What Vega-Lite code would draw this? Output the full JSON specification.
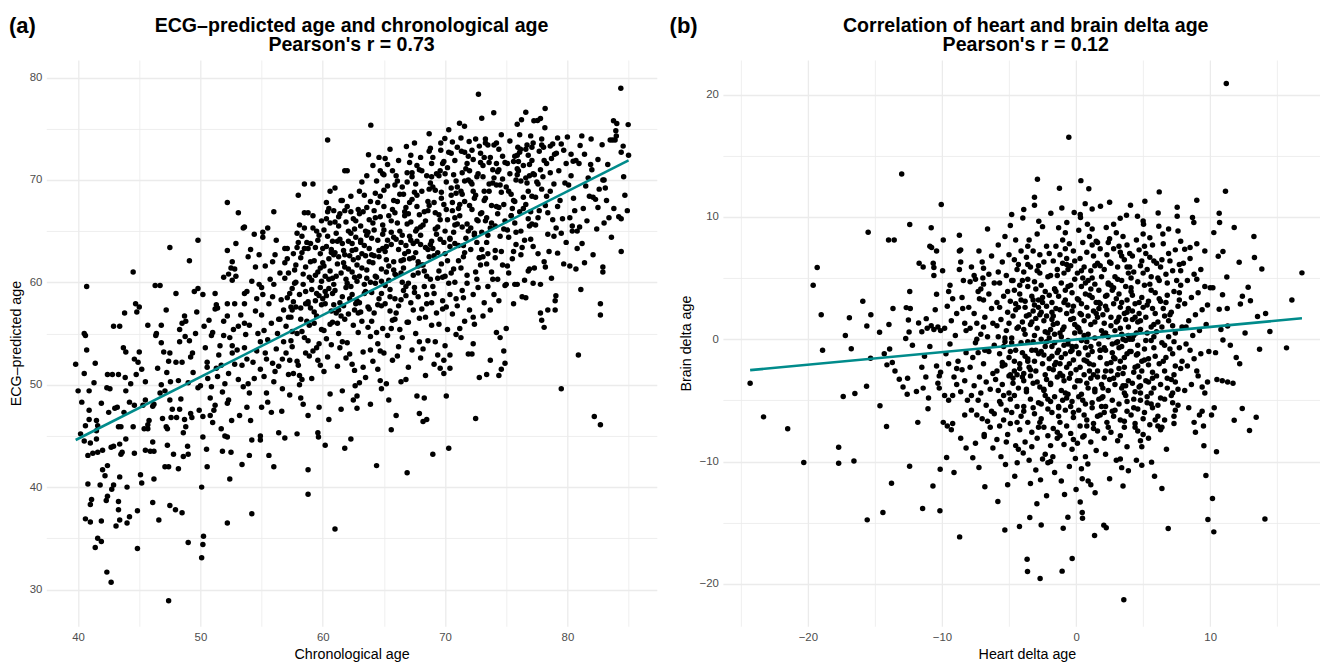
{
"$schema":"https://vega.github.io/schema/vega-lite/v6.json",
"background":"white",
"padding":{"left":9,"top":15,"right":0,"bottom":0},
"bounds":"flush",
"spacing":12.3,
"config":{
 "font":"Liberation Sans",
 "view":{"stroke":null},
 "axis":{"domain":false,"ticks":false,"labelColor":"#4D4D4D","labelFontSize":11.4,"titleFontSize":14.3,"titleFontWeight":"normal","titleColor":"#000000","gridColor":"#EBEBEB","labelOverlap":false,"labelFlush":false,"labelFont":"Liberation Sans","titleFont":"Liberation Sans"},
 "axisX":{"labelPadding":5,"titlePadding":5},
 "axisY":{"labelPadding":4.5,"titlePadding":5.5},
 "title":{"fontSize":19.6,"fontWeight":"bold","color":"#000000","font":"Liberation Sans"}
},
"datasets":{
"ecgLine":[{"x":39.8,"y":44.6},{"x":85.0,"y":71.9}],
"deltaLine":[{"x":-24.3,"y":-2.53},{"x":16.84,"y":1.71}],
"ecg":[
{"x":39.8,"y":52},{"x":40,"y":49.4},{"x":40.5,"y":51.1},{"x":40.6,"y":54.8},{"x":40.5,"y":55},{"x":40.7,"y":59.6},{"x":40.6,"y":46},{"x":40.9,"y":46.6},{"x":40.9,"y":47.5},{"x":40.9,"y":49.4},{"x":40.8,"y":43.1},{"x":40.5,"y":44.5},{"x":40.8,"y":40.3},{"x":40.6,"y":36.9},{"x":40.3,"y":48.3},{"x":40.7,"y":53.4},{"x":40.2,"y":45.2},
{"x":41,"y":44.3},{"x":41,"y":36.6},{"x":41,"y":38.3},{"x":41.1,"y":38.8},{"x":41.2,"y":43.3},{"x":41.4,"y":52.1},{"x":41.4,"y":34.1},{"x":41.5,"y":44.7},{"x":41.5,"y":45.5},{"x":41.6,"y":43.4},{"x":41.6,"y":35},{"x":41.8,"y":40.2},{"x":41.9,"y":34.7},{"x":41.9,"y":36.7},{"x":41.9,"y":48.2},{"x":41.5,"y":46.5},{"x":41.6,"y":46},{"x":41.3,"y":50.2},
{"x":42,"y":43.6},{"x":42,"y":41.7},{"x":42.2,"y":41.1},{"x":42.35,"y":31.7},{"x":42.35,"y":49.7},{"x":42.3,"y":38.7},{"x":42.4,"y":39.1},{"x":42.4,"y":42.1},{"x":42.4,"y":51},{"x":42.6,"y":49.6},{"x":42.7,"y":30.7},{"x":42.7,"y":43.9},{"x":42.75,"y":39.8},{"x":42.9,"y":40.2},{"x":42.9,"y":44},{"x":42.9,"y":55.7},{"x":42.5,"y":47.3},{"x":42.8,"y":51},
{"x":43,"y":47.7},{"x":43.1,"y":36.2},{"x":43.2,"y":47.8},{"x":43.3,"y":45.9},{"x":43.3,"y":37.8},{"x":43.3,"y":38.6},{"x":43.4,"y":36.8},{"x":43.4,"y":41},{"x":43.4,"y":44.2},{"x":43.5,"y":45.9},{"x":43.4,"y":55.7},{"x":43.5,"y":43.2},{"x":43.6,"y":43.4},{"x":43.7,"y":53.6},{"x":43.75,"y":47.3},{"x":43.8,"y":57},{"x":43.85,"y":50.7},{"x":43.9,"y":53.2},{"x":43.9,"y":49.4},{"x":43.9,"y":44.7},{"x":43.3,"y":51},
{"x":44,"y":36.5},{"x":44,"y":40},{"x":44.2,"y":37.1},{"x":44.2,"y":48.3},{"x":44.5,"y":61},{"x":44.5,"y":45.9},{"x":44.6,"y":43.3},{"x":44.6,"y":52.5},{"x":44.75,"y":51},{"x":44.7,"y":57.9},{"x":44.8,"y":57.1},{"x":44.85,"y":37.7},{"x":44.85,"y":34},{"x":44.9,"y":52.2},{"x":44.6,"y":48},{"x":44.3,"y":50.1},
{"x":45,"y":53.2},{"x":45,"y":57.6},{"x":45.1,"y":41.2},{"x":45.2,"y":40.4},{"x":45.4,"y":45.7},{"x":45.5,"y":50.3},{"x":45.5,"y":43.6},{"x":45.5,"y":48.5},{"x":45.7,"y":45.7},{"x":45.7,"y":46.1},{"x":45.7,"y":55.8},{"x":45.8,"y":46.5},{"x":45.9,"y":43.5},{"x":45.3,"y":48},{"x":45.2,"y":51.5},
{"x":46.1,"y":38.5},{"x":46.1,"y":44.4},{"x":46.1,"y":47.9},{"x":46.2,"y":43.5},{"x":46.2,"y":40.8},{"x":46.2,"y":48.1},{"x":46.3,"y":59.7},{"x":46.35,"y":54.8},{"x":46.4,"y":55},{"x":46.6,"y":36.8},{"x":46.7,"y":49.2},{"x":46.7,"y":59.7},{"x":46.8,"y":50},{"x":46.8,"y":54.1},{"x":46.8,"y":55.8},{"x":46.5,"y":51.6},{"x":46.9,"y":46.7},
{"x":47,"y":53.2},{"x":47.1,"y":49.4},{"x":47.1,"y":42},{"x":47.2,"y":45.9},{"x":47.2,"y":57.3},{"x":47.25,"y":51.2},{"x":47.3,"y":45.7},{"x":47.4,"y":42},{"x":47.4,"y":28.9},{"x":47.4,"y":52.3},{"x":47.5,"y":38.2},{"x":47.5,"y":48.5},{"x":47.5,"y":63.4},{"x":47.5,"y":53.1},{"x":47.55,"y":50.3},{"x":47.7,"y":47.6},{"x":47.8,"y":43.2},{"x":47.96,"y":37.8},{"x":47.3,"y":44.1},{"x":47.6,"y":46.8},
{"x":48,"y":52.2},{"x":48.05,"y":46.8},{"x":48,"y":58.9},{"x":48.2,"y":41.8},{"x":48.3,"y":47.6},{"x":48.3,"y":54.2},{"x":48.3,"y":55.4},{"x":48.4,"y":48.6},{"x":48.5,"y":37.5},{"x":48.5,"y":52.2},{"x":48.5,"y":56},{"x":48.6,"y":43},{"x":48.6,"y":45.3},{"x":48.7,"y":46.6},{"x":48.7,"y":56.7},{"x":48.75,"y":54.7},{"x":48.8,"y":56.2},{"x":48.8,"y":45.9},{"x":48.95,"y":44},{"x":48.2,"y":50.4},
{"x":49,"y":34.6},{"x":49,"y":43.2},{"x":49,"y":50.2},{"x":49.1,"y":62.1},{"x":49.2,"y":47.2},{"x":49.2,"y":52.7},{"x":49.3,"y":46.8},{"x":49.35,"y":53.1},{"x":49.5,"y":59.1},{"x":49.7,"y":57.1},{"x":49.8,"y":49.7},{"x":49.8,"y":59.4},{"x":49.8,"y":64.1},{"x":49.6,"y":55},{"x":49.4,"y":51.2},{"x":49.9,"y":47.5},{"x":49.1,"y":54.3},
{"x":50,"y":49.9},{"x":50.1,"y":33.1},{"x":50.1,"y":40},{"x":50.2,"y":34.4},{"x":50.25,"y":35.2},{"x":50.2,"y":44.9},{"x":50.2,"y":46.9},{"x":50.2,"y":58.8},{"x":50.5,"y":43.7},{"x":50.55,"y":42},{"x":50.55,"y":52.2},{"x":50.55,"y":51.7},{"x":50.7,"y":56.3},{"x":50.8,"y":47},{"x":50.8,"y":48.7},{"x":50.4,"y":53.6},{"x":50.9,"y":54.8},{"x":50.6,"y":50.6},{"x":50.3,"y":55.7},{"x":50.9,"y":49.8},
{"x":51,"y":46.3},{"x":51.1,"y":47.5},{"x":51.2,"y":48},{"x":51.2,"y":57.4},{"x":51.2,"y":58.9},{"x":51.3,"y":57.8},{"x":51.4,"y":50.8},{"x":51.4,"y":57.5},{"x":51.7,"y":45.7},{"x":51.8,"y":49.3},{"x":51.8,"y":43.5},{"x":51.9,"y":60.5},{"x":51.9,"y":54.8},{"x":51.5,"y":52.9},{"x":51.6,"y":53.8},{"x":51.3,"y":51.6},{"x":51.9,"y":56.2},{"x":51,"y":55.1},{"x":51.7,"y":51.9},
{"x":52,"y":45},{"x":52,"y":50.1},{"x":52.2,"y":44.9},{"x":52.2,"y":36.5},{"x":52.2,"y":48.2},{"x":52.2,"y":57.9},{"x":52.2,"y":56.7},{"x":52.2,"y":63.1},{"x":52.2,"y":67.8},{"x":52.3,"y":51.1},{"x":52.3,"y":48.5},{"x":52.3,"y":60.8},{"x":52.4,"y":40.8},{"x":52.5,"y":43.4},{"x":52.5,"y":61.4},{"x":52.55,"y":46.5},{"x":52.6,"y":53.8},{"x":52.6,"y":53.1},{"x":52.6,"y":62},{"x":52.6,"y":60.2},{"x":52.8,"y":52},{"x":52.8,"y":61.3},{"x":52.8,"y":57.9},{"x":52.9,"y":63.8},{"x":52.9,"y":60.6},{"x":52.7,"y":55.4},{"x":52.4,"y":54.6},
{"x":53,"y":53.4},{"x":53.1,"y":50.5},{"x":53.1,"y":55.7},{"x":53.1,"y":66.8},{"x":53.2,"y":47},{"x":53.4,"y":51.9},{"x":53.4,"y":42.2},{"x":53.5,"y":65.3},{"x":53.5,"y":49.8},{"x":53.6,"y":58.9},{"x":53.6,"y":56},{"x":53.6,"y":53.6},{"x":53.6,"y":65.4},{"x":53.6,"y":57.9},{"x":53.8,"y":47.8},{"x":53.8,"y":59.1},{"x":53.9,"y":62.5},{"x":53.9,"y":50.1},{"x":53.7,"y":54.9},{"x":53.3,"y":56.8},{"x":53.8,"y":52.5},
{"x":54,"y":43.1},{"x":54,"y":55.8},{"x":54,"y":49.2},{"x":54.1,"y":46.5},{"x":54.1,"y":63.2},{"x":54.2,"y":44.6},{"x":54.2,"y":60.1},{"x":54.2,"y":37.4},{"x":54.4,"y":50.6},{"x":54.4,"y":64.7},{"x":54.5,"y":61.5},{"x":54.6,"y":53.3},{"x":54.8,"y":62.7},{"x":54.8,"y":59.8},{"x":54.9,"y":45},{"x":54.9,"y":44.6},{"x":54.9,"y":51.5},{"x":54.5,"y":57.2},{"x":54.7,"y":55},{"x":54.3,"y":52.2},{"x":54.6,"y":58.4},{"x":54.9,"y":54.2},
{"x":55,"y":59.5},{"x":55,"y":56.8},{"x":55,"y":47.8},{"x":55.1,"y":64.9},{"x":55.1,"y":64.4},{"x":55.1,"y":58.8},{"x":55.2,"y":50.8},{"x":55.3,"y":61.6},{"x":55.4,"y":49.2},{"x":55.5,"y":65.3},{"x":55.5,"y":48.3},{"x":55.6,"y":43.1},{"x":55.5,"y":54.4},{"x":55.3,"y":53.1},{"x":55.8,"y":47.3},{"x":55.9,"y":62},{"x":55.9,"y":52.1},{"x":55.8,"y":56},{"x":55.6,"y":57.9},{"x":55.2,"y":55.3},{"x":55.7,"y":60.3},{"x":55.4,"y":52.5},{"x":55.9,"y":58.6},
{"x":56,"y":42},{"x":56,"y":59.8},{"x":56,"y":50.3},{"x":56,"y":66.9},{"x":56.1,"y":51.3},{"x":56.2,"y":64.1},{"x":56.4,"y":45.3},{"x":56.4,"y":56.4},{"x":56.5,"y":56.4},{"x":56.65,"y":47.4},{"x":56.7,"y":52.5},{"x":56.9,"y":63.3},{"x":56.9,"y":61.9},{"x":56.9,"y":60.4},{"x":56.9,"y":44.8},{"x":56.3,"y":55},{"x":56.6,"y":58.3},{"x":56.8,"y":54.2},{"x":56.2,"y":53.5},{"x":56.5,"y":60.9},{"x":56.8,"y":57.3},{"x":56.1,"y":62.7},{"x":56.7,"y":49.6},{"x":56.4,"y":51.8},
{"x":57,"y":53.1},{"x":57.1,"y":63.3},{"x":57.2,"y":56.6},{"x":57.2,"y":51},{"x":57.4,"y":56.6},{"x":57.5,"y":57.3},{"x":57.3,"y":52.4},{"x":57.6,"y":51.1},{"x":57.9,"y":45.2},{"x":57.9,"y":64.8},{"x":57.9,"y":55},{"x":57.5,"y":59.4},{"x":57.7,"y":61.2},{"x":57.1,"y":58.5},{"x":57.8,"y":60},{"x":57.4,"y":54.3},{"x":57.6,"y":62.8},{"x":57.3,"y":49},{"x":57.8,"y":57.6},{"x":57,"y":55.7},{"x":57.5,"y":53.7},{"x":57.2,"y":60.9},{"x":57.9,"y":52.3},{"x":57.6,"y":58.1},
{"x":58,"y":68.5},{"x":58,"y":63.9},{"x":58,"y":51.9},{"x":58.1,"y":50.9},{"x":58.1,"y":50},{"x":58.2,"y":57.5},{"x":58.2,"y":48.7},{"x":58.3,"y":50.5},{"x":58.4,"y":48.1},{"x":58.5,"y":69.6},{"x":58.5,"y":66.8},{"x":58.5,"y":65.3},{"x":58.5,"y":63.3},{"x":58.6,"y":53.1},{"x":58.8,"y":66.8},{"x":58.8,"y":63.3},{"x":58.8,"y":57.9},{"x":58.8,"y":58.1},{"x":58.8,"y":41.7},{"x":58.8,"y":39.3},{"x":58.8,"y":47},{"x":58.3,"y":55.2},{"x":58.4,"y":59.8},{"x":58.6,"y":61.5},{"x":58.7,"y":56.2},{"x":58.2,"y":62.4},{"x":58.9,"y":60.5},{"x":58.5,"y":54.6},{"x":58.1,"y":58.8},{"x":58.9,"y":52.8},{"x":58.3,"y":64.5},{"x":58.6,"y":59.1},
{"x":59.2,"y":69.6},{"x":59.2,"y":66.5},{"x":59.4,"y":58.2},{"x":59.5,"y":65},{"x":59.6,"y":45.3},{"x":59.65,"y":44.9},{"x":59.7,"y":47.8},{"x":59.8,"y":51.9},{"x":59.7,"y":54},{"x":59.1,"y":60.2},{"x":59.3,"y":62.1},{"x":59.5,"y":56.7},{"x":59.8,"y":59.5},{"x":59,"y":57.5},{"x":59.4,"y":63.4},{"x":59.6,"y":61},{"x":59.9,"y":55.4},{"x":59.2,"y":53.3},{"x":59.7,"y":64.6},{"x":59.1,"y":50.6},{"x":59.5,"y":58.9},{"x":59.8,"y":62.8},{"x":59.3,"y":56},{"x":59.9,"y":66},{"x":59,"y":63.8},{"x":59.6,"y":52.4},{"x":59.4,"y":60.7},{"x":59.9,"y":57.8},
{"x":60.4,"y":73.9},{"x":60.6,"y":68.9},{"x":60.3,"y":66.2},{"x":60.5,"y":67.2},{"x":60.4,"y":66.9},{"x":60.2,"y":44.1},{"x":60.3,"y":54.5},{"x":60.6,"y":49.1},{"x":60.1,"y":55.3},{"x":60,"y":58.4},{"x":60.2,"y":60.6},{"x":60.5,"y":62.3},{"x":60.8,"y":64},{"x":60.1,"y":65.1},{"x":60.7,"y":57.2},{"x":60.9,"y":59.8},{"x":60.3,"y":63.5},{"x":60.6,"y":61.1},{"x":60.8,"y":56.1},{"x":60.4,"y":52.7},{"x":60.9,"y":67},{"x":60,"y":61.9},{"x":60.7,"y":53.9},{"x":60.2,"y":57.9},{"x":60.5,"y":59.4},{"x":60.9,"y":62.7},{"x":60.6,"y":65.8},{"x":60.1,"y":51.3},{"x":60.8,"y":60.4},{"x":60.3,"y":58.7},{"x":60.5,"y":46.6},{"x":60.7,"y":63.2},
{"x":61,"y":35.9},{"x":61,"y":69.2},{"x":61.3,"y":66.4},{"x":61.3,"y":65.5},{"x":61.3,"y":55},{"x":61.5,"y":68},{"x":61.6,"y":68},{"x":61.8,"y":70.9},{"x":61.8,"y":67},{"x":61.8,"y":43.8},{"x":61.5,"y":47.6},{"x":61.6,"y":49.4},{"x":61.2,"y":51.8},{"x":61.4,"y":53.6},{"x":61.1,"y":57},{"x":61.6,"y":58.6},{"x":61.9,"y":60.3},{"x":61.2,"y":61.8},{"x":61.7,"y":63.1},{"x":61.4,"y":64.2},{"x":61,"y":59.2},{"x":61.8,"y":56.4},{"x":61.3,"y":62.5},{"x":61.6,"y":54.2},{"x":61.9,"y":52.6},{"x":61.1,"y":64.8},{"x":61.5,"y":60.9},{"x":61.7,"y":57.7},{"x":61.2,"y":56},{"x":61.9,"y":65.9},{"x":61.4,"y":58},{"x":61,"y":62.9},{"x":61.8,"y":61.5},
{"x":62,"y":70.9},{"x":62.3,"y":68.4},{"x":62.3,"y":44.7},{"x":62.4,"y":52},{"x":62.5,"y":48.5},{"x":62.65,"y":49.9},{"x":62.8,"y":47.7},{"x":62.8,"y":48.9},{"x":62,"y":54.1},{"x":62.1,"y":56.9},{"x":62.4,"y":58.8},{"x":62.6,"y":60.5},{"x":62.2,"y":62.6},{"x":62.7,"y":64.4},{"x":62.5,"y":66.2},{"x":62.9,"y":67.1},{"x":62.1,"y":65},{"x":62.8,"y":61.7},{"x":62.3,"y":59.6},{"x":62.6,"y":57.3},{"x":62.9,"y":55.1},{"x":62.2,"y":53},{"x":62.7,"y":63.2},{"x":62.4,"y":61},{"x":62,"y":59.9},{"x":62.8,"y":58.2},{"x":62.5,"y":55.8},{"x":62.9,"y":62.4},{"x":62.1,"y":64},{"x":62.6,"y":51.4},{"x":62.3,"y":66.9},{"x":62.7,"y":57.9},{"x":62.4,"y":63.8},
{"x":63,"y":50.2},{"x":63.5,"y":50.7},{"x":63.9,"y":48.1},{"x":63.93,"y":75.35},{"x":63.74,"y":72.45},{"x":63.2,"y":69.8},{"x":63.6,"y":67.3},{"x":63.1,"y":65.5},{"x":63.4,"y":63.6},{"x":63.8,"y":62},{"x":63,"y":60.6},{"x":63.5,"y":59.1},{"x":63.7,"y":57.6},{"x":63.2,"y":56.2},{"x":63.9,"y":54.7},{"x":63.3,"y":53.2},{"x":63.6,"y":61.2},{"x":63.1,"y":64.1},{"x":63.8,"y":66.1},{"x":63.4,"y":68.5},{"x":63,"y":58},{"x":63.7,"y":55.6},{"x":63.2,"y":62.8},{"x":63.5,"y":65},{"x":63.9,"y":60},{"x":63.3,"y":51.7},{"x":63.6,"y":70.4},{"x":63.1,"y":57.1},{"x":63.8,"y":63.3},{"x":63.4,"y":59.8},{"x":63,"y":66.7},{"x":63.9,"y":53.4},{"x":63.6,"y":64.6},
{"x":64.4,"y":42.1},{"x":64.8,"y":49.6},{"x":64.7,"y":50.4},{"x":64.1,"y":52.3},{"x":64.5,"y":54},{"x":64.9,"y":55.5},{"x":64.2,"y":57},{"x":64.6,"y":58.4},{"x":64.3,"y":59.9},{"x":64.8,"y":61.3},{"x":64,"y":62.7},{"x":64.5,"y":64.1},{"x":64.9,"y":65.6},{"x":64.2,"y":67},{"x":64.7,"y":68.4},{"x":64.4,"y":69.9},{"x":64.1,"y":71.4},{"x":64.6,"y":72.2},{"x":64.3,"y":60.6},{"x":64.9,"y":63.3},{"x":64,"y":56.2},{"x":64.7,"y":53.3},{"x":64.2,"y":65.1},{"x":64.8,"y":58.9},{"x":64.5,"y":67.8},{"x":64.1,"y":61.9},{"x":64.9,"y":70.6},{"x":64.4,"y":55.1},{"x":64.6,"y":62.5},{"x":64,"y":59},{"x":64.3,"y":66.3},{"x":64.8,"y":57.7},{"x":64.5,"y":51.5},
{"x":65.2,"y":50.1},{"x":65.4,"y":48.5},{"x":65.6,"y":45.6},{"x":65,"y":53.1},{"x":65.3,"y":54.8},{"x":65.7,"y":56.3},{"x":65.1,"y":57.9},{"x":65.5,"y":59.3},{"x":65.9,"y":60.8},{"x":65.2,"y":62.2},{"x":65.6,"y":63.7},{"x":65,"y":65.1},{"x":65.4,"y":66.5},{"x":65.8,"y":68},{"x":65.3,"y":69.4},{"x":65.7,"y":70.9},{"x":65.1,"y":72.1},{"x":65.5,"y":73},{"x":65.9,"y":58.4},{"x":65.2,"y":61},{"x":65.8,"y":64.4},{"x":65,"y":67.4},{"x":65.6,"y":55.5},{"x":65.4,"y":60.2},{"x":65.9,"y":66.8},{"x":65.1,"y":63},{"x":65.7,"y":52.4},{"x":65.3,"y":71.5},{"x":65.5,"y":57.2},{"x":65.8,"y":62},{"x":65,"y":69},{"x":65.6,"y":64.9},
{"x":66,"y":47},{"x":66.4,"y":50.3},{"x":66.8,"y":50.5},{"x":66.9,"y":41.4},{"x":66.84,"y":73.26},{"x":66.1,"y":52.8},{"x":66.5,"y":54.6},{"x":66.9,"y":56.1},{"x":66.2,"y":57.7},{"x":66.6,"y":59.2},{"x":66,"y":60.7},{"x":66.4,"y":62.1},{"x":66.8,"y":63.6},{"x":66.3,"y":65},{"x":66.7,"y":66.5},{"x":66.1,"y":67.9},{"x":66.5,"y":69.3},{"x":66.9,"y":70.7},{"x":66.2,"y":71.9},{"x":66.6,"y":61.4},{"x":66,"y":64.2},{"x":66.4,"y":58.3},{"x":66.8,"y":67.3},{"x":66.3,"y":55.4},{"x":66.7,"y":62.8},{"x":66.1,"y":69.9},{"x":66.5,"y":60},{"x":66.9,"y":65.7},{"x":66.2,"y":53.7},{"x":66.6,"y":68.6},{"x":66,"y":57},{"x":66.4,"y":63.9},{"x":66.8,"y":59.6},
{"x":67.9,"y":47.2},{"x":67.7,"y":48.9},{"x":67,"y":51.7},{"x":67.3,"y":53.4},{"x":67.6,"y":55},{"x":67.9,"y":56.5},{"x":67.2,"y":58},{"x":67.5,"y":59.5},{"x":67.8,"y":60.9},{"x":67.1,"y":62.3},{"x":67.4,"y":63.8},{"x":67.7,"y":65.2},{"x":67,"y":66.7},{"x":67.3,"y":68.1},{"x":67.6,"y":69.6},{"x":67.9,"y":71},{"x":67.2,"y":72.4},{"x":67.5,"y":73.6},{"x":67.8,"y":61.6},{"x":67.1,"y":64.5},{"x":67.4,"y":57.3},{"x":67.7,"y":67.4},{"x":67,"y":59.9},{"x":67.3,"y":70.3},{"x":67.6,"y":62.9},{"x":67.9,"y":54.2},{"x":67.2,"y":65.9},{"x":67.5,"y":68.8},{"x":67.8,"y":58.6},{"x":67.1,"y":71.7},{"x":67.4,"y":60.7},{"x":67.7,"y":64},{"x":67,"y":56.1},
{"x":68.2,"y":46.4},{"x":68.5,"y":46.6},{"x":68.3,"y":48.7},{"x":68.7,"y":72.8},{"x":68.8,"y":73.1},{"x":68.4,"y":50.9},{"x":68,"y":52.6},{"x":68.6,"y":54.3},{"x":68.9,"y":55.8},{"x":68.1,"y":57.4},{"x":68.5,"y":58.8},{"x":68.8,"y":60.3},{"x":68.2,"y":61.7},{"x":68.6,"y":63.2},{"x":68,"y":64.6},{"x":68.4,"y":66},{"x":68.7,"y":67.5},{"x":68.1,"y":68.9},{"x":68.5,"y":70.4},{"x":68.9,"y":71.6},{"x":68.3,"y":59.6},{"x":68.7,"y":62.5},{"x":68,"y":65.4},{"x":68.4,"y":56.6},{"x":68.8,"y":69.7},{"x":68.2,"y":53.5},{"x":68.6,"y":67},{"x":68.9,"y":64},{"x":68.3,"y":61.1},{"x":68.1,"y":70.9},{"x":68.5,"y":57.9},{"x":68.7,"y":74.5},{"x":68,"y":63.7},
{"x":69,"y":43.2},{"x":69.1,"y":52},{"x":69.4,"y":52.9},{"x":69.6,"y":51.6},{"x":69.65,"y":73.6},{"x":69.65,"y":72.9},{"x":69.98,"y":74.04},{"x":69.9,"y":52.4},{"x":69.9,"y":51.1},{"x":69.2,"y":54.2},{"x":69.5,"y":55.9},{"x":69.8,"y":57.4},{"x":69.1,"y":58.9},{"x":69.4,"y":60.4},{"x":69.7,"y":61.8},{"x":69,"y":63.3},{"x":69.3,"y":64.7},{"x":69.6,"y":66.1},{"x":69.9,"y":67.6},{"x":69.2,"y":69},{"x":69.5,"y":70.4},{"x":69.8,"y":71.6},{"x":69.1,"y":62.6},{"x":69.4,"y":65.4},{"x":69.7,"y":68.2},{"x":69,"y":59.6},{"x":69.3,"y":57},{"x":69.6,"y":70.9},{"x":69.9,"y":63.9},{"x":69.2,"y":66.8},{"x":69.5,"y":61.1},{"x":69.8,"y":58.2},{"x":69,"y":72.2},
{"x":70.1,"y":48.9},{"x":70.3,"y":43.8},{"x":70.4,"y":51.6},{"x":70.4,"y":52.9},{"x":70.5,"y":72.6},{"x":70.8,"y":71.9},{"x":70,"y":53.8},{"x":70.2,"y":55.4},{"x":70.6,"y":56.9},{"x":70.9,"y":58.4},{"x":70.3,"y":59.9},{"x":70.7,"y":61.3},{"x":70,"y":62.8},{"x":70.4,"y":64.2},{"x":70.8,"y":65.6},{"x":70.1,"y":67.1},{"x":70.5,"y":68.5},{"x":70.9,"y":69.9},{"x":70.2,"y":71.2},{"x":70.6,"y":73.7},{"x":70,"y":60.6},{"x":70.4,"y":63.5},{"x":70.8,"y":66.3},{"x":70.1,"y":57.6},{"x":70.5,"y":69.2},{"x":70.9,"y":54.9},{"x":70.3,"y":74.9},{"x":70.7,"y":64.9},{"x":70.2,"y":62.1},{"x":70.6,"y":67.8},{"x":70,"y":70.6},{"x":70.4,"y":58.8},{"x":70.8,"y":60},
{"x":71.18,"y":75.54},{"x":71.59,"y":75.25},{"x":71.34,"y":72.8},{"x":71.6,"y":72.7},{"x":71.97,"y":73.75},{"x":71.9,"y":53},{"x":71.3,"y":54.6},{"x":71.6,"y":56.2},{"x":71,"y":57.7},{"x":71.4,"y":59.2},{"x":71.8,"y":60.7},{"x":71.1,"y":62.1},{"x":71.5,"y":63.6},{"x":71.9,"y":65},{"x":71.2,"y":66.5},{"x":71.6,"y":67.9},{"x":71,"y":69.3},{"x":71.4,"y":70.7},{"x":71.8,"y":71.6},{"x":71.3,"y":61.4},{"x":71.7,"y":64.3},{"x":71.1,"y":67.2},{"x":71.5,"y":58.5},{"x":71.9,"y":70},{"x":71.2,"y":55.5},{"x":71.6,"y":62.9},{"x":71,"y":65.7},{"x":71.4,"y":68.6},{"x":71.8,"y":59.9},{"x":71.3,"y":74.1},
{"x":72.73,"y":78.37},{"x":72.2,"y":53},{"x":72.3,"y":54},{"x":72.4,"y":55.9},{"x":72.5,"y":46.7},{"x":72.8,"y":50.7},{"x":72,"y":57.3},{"x":72.3,"y":58.8},{"x":72.6,"y":60.3},{"x":72.9,"y":61.7},{"x":72.1,"y":63.2},{"x":72.4,"y":64.6},{"x":72.7,"y":66},{"x":72,"y":67.5},{"x":72.3,"y":68.9},{"x":72.6,"y":70.3},{"x":72.9,"y":71.7},{"x":72.2,"y":72.9},{"x":72.5,"y":74},{"x":72.8,"y":62.4},{"x":72.1,"y":65.3},{"x":72.4,"y":68.2},{"x":72.7,"y":59.5},{"x":72,"y":70.9},{"x":72.3,"y":56.6},{"x":72.6,"y":63.9},{"x":72.9,"y":66.7},{"x":72.2,"y":69.6},{"x":72.5,"y":61},{"x":72.8,"y":73.3},
{"x":73,"y":76.03},{"x":73.3,"y":74},{"x":73.5,"y":73.4},{"x":73.4,"y":51},{"x":73.7,"y":52.4},{"x":73.1,"y":56.7},{"x":73.2,"y":58},{"x":73.5,"y":59.6},{"x":73.8,"y":61},{"x":73.1,"y":62.5},{"x":73.4,"y":63.9},{"x":73.7,"y":65.3},{"x":73,"y":66.8},{"x":73.3,"y":68.2},{"x":73.6,"y":69.6},{"x":73.9,"y":71},{"x":73.2,"y":72.2},{"x":73.5,"y":64.6},{"x":73.8,"y":67.5},{"x":73.1,"y":70.3},{"x":73.4,"y":61.8},{"x":73.7,"y":57.3},{"x":73,"y":63.2},{"x":73.3,"y":66},{"x":73.6,"y":71.7},{"x":73.9,"y":60.3},{"x":73.2,"y":68.9},
{"x":73.98,"y":76.55},{"x":74.6,"y":74.4},{"x":74.2,"y":73.6},{"x":74.4,"y":73},{"x":74.2,"y":71.6},{"x":74.4,"y":58.2},{"x":74,"y":58.8},{"x":74.2,"y":55.1},{"x":74.4,"y":50.9},{"x":74.6,"y":51.5},{"x":74.9,"y":52.1},{"x":74.8,"y":53.3},{"x":74.5,"y":54.6},{"x":74.3,"y":60.3},{"x":74.7,"y":61.7},{"x":74.1,"y":63.1},{"x":74.5,"y":64.5},{"x":74.9,"y":66},{"x":74.2,"y":67.4},{"x":74.6,"y":68.8},{"x":74,"y":70.2},{"x":74.4,"y":71},{"x":74.8,"y":65.2},{"x":74.1,"y":62.4},{"x":74.5,"y":69.5},{"x":74.9,"y":59.7},{"x":74.3,"y":66.7},{"x":74.7,"y":72.3},
{"x":75,"y":59.8},{"x":75,"y":55.5},{"x":75.9,"y":59.8},{"x":75.7,"y":59.8},{"x":75.6,"y":57.9},{"x":75.9,"y":75.44},{"x":75.95,"y":73.2},{"x":75.2,"y":60.9},{"x":75.5,"y":62.3},{"x":75.8,"y":63.7},{"x":75.1,"y":65.1},{"x":75.4,"y":66.5},{"x":75.7,"y":67.9},{"x":75,"y":69.3},{"x":75.3,"y":70.6},{"x":75.6,"y":71.8},{"x":75.9,"y":72.4},{"x":75.2,"y":64.4},{"x":75.5,"y":67.2},{"x":75.8,"y":70},{"x":75.1,"y":61.6},{"x":75.4,"y":68.6},{"x":75.7,"y":65.8},{"x":75.3,"y":73.8},{"x":75.9,"y":71.1},{"x":75.6,"y":63},
{"x":76.25,"y":75.87},{"x":76.17,"y":73},{"x":76,"y":71.8},{"x":76.6,"y":73},{"x":76.8,"y":72.4},{"x":76.3,"y":58.6},{"x":76.6,"y":58.5},{"x":76.8,"y":61.1},{"x":76.9,"y":61.3},{"x":76.2,"y":62.7},{"x":76.5,"y":64.1},{"x":76.9,"y":65.5},{"x":76.1,"y":66.9},{"x":76.4,"y":68.3},{"x":76.7,"y":69.7},{"x":76,"y":70.9},{"x":76.3,"y":63.4},{"x":76.6,"y":67.6},{"x":76.9,"y":70.4},{"x":76.2,"y":65},{"x":76.5,"y":60.2},{"x":76.8,"y":68.9},{"x":76.4,"y":71.4},{"x":76.6,"y":76.6},{"x":76.1,"y":74.4},
{"x":77.26,"y":75.77},{"x":77.56,"y":75.8},{"x":77.8,"y":76},{"x":77,"y":74.3},{"x":77.2,"y":73.6},{"x":77.1,"y":73.2},{"x":77.1,"y":71.9},{"x":77.9,"y":73.4},{"x":77.2,"y":59.9},{"x":77.8,"y":59.8},{"x":77.8,"y":57},{"x":77.9,"y":56.3},{"x":77.3,"y":61.4},{"x":77.6,"y":62.8},{"x":77,"y":64.2},{"x":77.4,"y":65.6},{"x":77.7,"y":67},{"x":77.1,"y":68.4},{"x":77.5,"y":69.8},{"x":77.8,"y":71},{"x":77.2,"y":63.5},{"x":77.6,"y":66.3},{"x":77.9,"y":69.1},{"x":77.3,"y":70.5},{"x":77,"y":66.9},
{"x":78.18,"y":76.97},{"x":78.16,"y":75.1},{"x":78.05,"y":73.2},{"x":78.6,"y":73.3},{"x":78.4,"y":64.7},{"x":78.9,"y":64.5},{"x":78.2,"y":61.5},{"x":78.4,"y":57.3},{"x":78.1,"y":55.6},{"x":78.5,"y":63},{"x":78.8,"y":66.1},{"x":78.2,"y":67.5},{"x":78.6,"y":68.9},{"x":78,"y":70.3},{"x":78.3,"y":71.6},{"x":78.7,"y":72.1},{"x":78.9,"y":69.6},{"x":78.4,"y":66.8},{"x":78.1,"y":62},{"x":78.7,"y":60.4},
{"x":79.08,"y":65.3},{"x":79.2,"y":62.85},{"x":79.06,"y":58.7},{"x":79,"y":58.2},{"x":79,"y":57.3},{"x":79.2,"y":74.1},{"x":79.5,"y":73.5},{"x":79.7,"y":72.9},{"x":78.95,"y":72.5},{"x":79.1,"y":72.6},{"x":79.7,"y":61.8},{"x":79.5,"y":49.6},{"x":79.4,"y":68},{"x":79.8,"y":69.7},{"x":79.3,"y":70.9},{"x":79.6,"y":66.2},{"x":79.9,"y":71.6},{"x":79.2,"y":67.4},{"x":79.9,"y":63.9},{"x":79.5,"y":64.8},
{"x":80,"y":74.2},{"x":80.3,"y":72.5},{"x":80.47,"y":71.83},{"x":80.7,"y":71.9},{"x":80.95,"y":71.6},{"x":80.4,"y":65.5},{"x":80.4,"y":65},{"x":80.8,"y":65},{"x":80.7,"y":61.3},{"x":80.2,"y":61.6},{"x":80.9,"y":52.9},{"x":80.5,"y":68.2},{"x":80.1,"y":69.5},{"x":80.6,"y":67},{"x":80.3,"y":70.4},{"x":80.8,"y":63.3},{"x":80.2,"y":66.3},
{"x":81.04,"y":73.36},{"x":81.18,"y":74.3},{"x":81,"y":65.4},{"x":81.4,"y":61.9},{"x":81.1,"y":59.3},{"x":81.9,"y":71.5},{"x":81.94,"y":74},{"x":81.5,"y":69.4},{"x":81.3,"y":67.2},{"x":81.7,"y":70.2},{"x":81.2,"y":63.8},{"x":81.6,"y":66},{"x":81.8,"y":68.4},{"x":81.4,"y":72.5},
{"x":82.1,"y":68.3},{"x":82.3,"y":68.1},{"x":82.1,"y":62.7},{"x":82.2,"y":46.9},{"x":82.7,"y":46.1},{"x":82.5,"y":67.3},{"x":82.84,"y":73.43},{"x":82.5,"y":72},{"x":82.7,"y":57.9},{"x":82.7,"y":56.8},{"x":82.9,"y":61.5},{"x":82.9,"y":61},{"x":82.9,"y":70},{"x":82.4,"y":65.2},{"x":82.6,"y":69.1},{"x":82,"y":71},
{"x":83,"y":65.8},{"x":83.4,"y":66.3},{"x":83.6,"y":64.4},{"x":83.2,"y":68},{"x":83.1,"y":69.2},{"x":83,"y":70},{"x":83.77,"y":75.77},{"x":83.5,"y":73.9},{"x":83.7,"y":73.9},{"x":83.9,"y":73.9},{"x":83.96,"y":74.8},{"x":83.3,"y":71.5},{"x":83.8,"y":67.2},
{"x":84.04,"y":75.5},{"x":84,"y":74.3},{"x":84.37,"y":78.96},{"x":84.56,"y":73.3},{"x":84.4,"y":72.7},{"x":84.97,"y":75.4},{"x":85,"y":72.4},{"x":84.7,"y":68.5},{"x":84.2,"y":66.4},{"x":84.4,"y":66.2},{"x":84.9,"y":67},{"x":84.4,"y":63},{"x":84.6,"y":70.3},
{"x":57.3,"y":58.9},{"x":57.8,"y":61.7},{"x":58.2,"y":56.4},{"x":58.7,"y":63.9},{"x":59.1,"y":59.3},{"x":59.6,"y":64.1},{"x":57.5,"y":55.2},{"x":58.4,"y":60.8},{"x":59.3,"y":57.1},{"x":59.8,"y":61.4},{"x":57.1,"y":62.3},{"x":58.9,"y":55.8},{"x":59.5,"y":53.6},{"x":58.1,"y":65.6},{"x":57.7,"y":59.9},{"x":59,"y":62},{"x":58.6,"y":57.9},{"x":59.9,"y":60.1},{"x":57.4,"y":57.6},{"x":58.3,"y":62.9},{"x":59.2,"y":65.3},{"x":58.8,"y":54.3},{"x":59.7,"y":58.7},{"x":57.9,"y":63.4},
{"x":60.2,"y":59.1},{"x":60.7,"y":62.9},{"x":61.1,"y":60.6},{"x":61.6,"y":63.8},{"x":62.1,"y":61.3},{"x":62.6,"y":65.2},{"x":60.4,"y":64.5},{"x":60.9,"y":57.8},{"x":61.4,"y":66.7},{"x":61.9,"y":59.5},{"x":62.4,"y":63.1},{"x":62.8,"y":60.1},{"x":60.1,"y":61.6},{"x":60.6,"y":55.9},{"x":61.2,"y":64},{"x":61.7,"y":61.9},{"x":62.2,"y":58.4},{"x":62.7,"y":66},{"x":60.3,"y":67.8},{"x":60.8,"y":58.9},{"x":61.3,"y":57.3},{"x":61.8,"y":62.7},{"x":62.3,"y":64.8},{"x":62.9,"y":57},{"x":60.5,"y":60.3},{"x":61,"y":65.9},{"x":61.5,"y":56.7},{"x":62,"y":67.4},{"x":62.5,"y":62.2},{"x":60,"y":63.3},
{"x":63.2,"y":61.4},{"x":63.7,"y":64.9},{"x":64.2,"y":62.6},{"x":64.7,"y":66.4},{"x":65.2,"y":63.5},{"x":65.7,"y":67.1},{"x":63.4,"y":58.9},{"x":63.9,"y":67.9},{"x":64.4,"y":60.5},{"x":64.9,"y":64.7},{"x":65.4,"y":61.6},{"x":65.9,"y":69.5},{"x":63.1,"y":63.9},{"x":63.6,"y":60.4},{"x":64.1,"y":65.8},{"x":64.6,"y":63.1},{"x":65.1,"y":59.7},{"x":65.6,"y":66},{"x":63.3,"y":66.9},{"x":63.8,"y":57.4},{"x":64.3,"y":68.7},{"x":64.8,"y":60.1},{"x":65.3,"y":64.1},{"x":65.8,"y":61.2},{"x":63.5,"y":62.6},{"x":64,"y":64.3},{"x":64.5,"y":57.8},{"x":65,"y":70.5},{"x":65.5,"y":58.6},{"x":63,"y":68.9},{"x":64.7,"y":70.9},{"x":65.9,"y":56.4},
{"x":66.2,"y":63.2},{"x":66.7,"y":66.9},{"x":67.2,"y":64.1},{"x":67.7,"y":68.5},{"x":68.2,"y":65.6},{"x":68.7,"y":69.1},{"x":66.4,"y":60.9},{"x":66.9,"y":69.8},{"x":67.4,"y":62.4},{"x":67.9,"y":66.6},{"x":68.4,"y":63.4},{"x":68.9,"y":70.3},{"x":66.1,"y":65.8},{"x":66.6,"y":62.2},{"x":67.1,"y":67.8},{"x":67.6,"y":65},{"x":68.1,"y":61.7},{"x":68.6,"y":67.9},{"x":66.3,"y":68.6},{"x":66.8,"y":58.7},{"x":67.3,"y":70.7},{"x":67.8,"y":62},{"x":68.3,"y":66.9},{"x":68.8,"y":63.7},{"x":66.5,"y":64.6},{"x":67,"y":63},{"x":67.5,"y":59},{"x":68,"y":72.2},{"x":68.5,"y":60.6},{"x":66,"y":70.4},{"x":67.7,"y":71.4},{"x":68.9,"y":58},
{"x":69.2,"y":65.2},{"x":69.7,"y":68.8},{"x":70.2,"y":66.1},{"x":70.7,"y":70.5},{"x":71.2,"y":67.6},{"x":71.7,"y":71.1},{"x":69.4,"y":62.9},{"x":69.9,"y":71.8},{"x":70.4,"y":64.3},{"x":70.9,"y":68.7},{"x":71.4,"y":65.4},{"x":71.9,"y":72.3},{"x":69.1,"y":67.8},{"x":69.6,"y":64.2},{"x":70.1,"y":69.8},{"x":70.6,"y":67},{"x":71.1,"y":63.6},{"x":71.6,"y":69.9},{"x":69.3,"y":70.6},{"x":69.8,"y":60.5},{"x":70.3,"y":72.7},{"x":70.8,"y":63.8},{"x":71.3,"y":68.9},{"x":71.8,"y":65.7},{"x":69.5,"y":66.6},{"x":70,"y":65},{"x":70.5,"y":60.9},{"x":71,"y":73.2},{"x":71.5,"y":62.5},{"x":69,"y":69.3},
{"x":72.2,"y":67.1},{"x":72.7,"y":70.6},{"x":73.2,"y":68},{"x":73.7,"y":72.2},{"x":74.2,"y":69.5},{"x":74.7,"y":70.1},{"x":72.4,"y":64.8},{"x":72.9,"y":72.6},{"x":73.4,"y":66.3},{"x":73.9,"y":69.7},{"x":74.4,"y":67.3},{"x":74.9,"y":71.7},{"x":72.1,"y":69.8},{"x":72.6,"y":66.1},{"x":73.1,"y":71.4},{"x":73.6,"y":68.9},{"x":74.1,"y":65.5},{"x":74.6,"y":63},{"x":72.3,"y":72},{"x":72.8,"y":62.4},{"x":73.3,"y":73.6},{"x":73.8,"y":65.8},{"x":74.3,"y":70.8},{"x":74.8,"y":67.6},{"x":72.5,"y":68.5},{"x":73,"y":64.9},{"x":73.5,"y":62.8},{"x":74,"y":73.4},
{"x":75.2,"y":68.9},{"x":75.7,"y":72.3},{"x":76.2,"y":69.9},{"x":76.7,"y":73.4},{"x":77.2,"y":70.6},{"x":77.7,"y":72.8},{"x":75.4,"y":66.5},{"x":75.9,"y":70.5},{"x":76.4,"y":67.2},{"x":76.9,"y":71.5},{"x":77.4,"y":68.3},{"x":77.9,"y":74},{"x":75.1,"y":71.6},{"x":75.6,"y":68},{"x":76.1,"y":72.7},{"x":76.6,"y":70.2},{"x":77.1,"y":65.7},{"x":77.6,"y":69.6},{"x":78.1,"y":71.9},{"x":78.6,"y":70.7},{"x":78.3,"y":68.4},{"x":78.8,"y":73.5},{"x":75.8,"y":64.9},{"x":76.8,"y":66.2}
],
"delta":[
{"x":-24.3,"y":-3.6},{"x":-23.3,"y":-6.35},{"x":-21.5,"y":-7.33},{"x":-20.3,"y":-10.08},{"x":-19.6,"y":4.4},{"x":-19.3,"y":5.85},{"x":-19,"y":2},{"x":-18.9,"y":-0.9},{"x":-17.7,"y":-8.83},{"x":-17.7,"y":-10.14},{"x":-17.36,"y":-4.69},{"x":-17.2,"y":0.3},{"x":-16.9,"y":1.76},{"x":-16.76,"y":-0.79},{"x":-16.56,"y":-9.95},{"x":-16.49,"y":-4.44},
{"x":-15.9,"y":3.1},{"x":-15.6,"y":1.08},{"x":-15.3,"y":2},{"x":-15.5,"y":8.74},{"x":-15.62,"y":-3.84},{"x":-15.32,"y":-1.55},{"x":-15.57,"y":-14.77},{"x":-14.65,"y":0.57},{"x":-14.62,"y":-5.45},{"x":-14.4,"y":-14.17},{"x":-14.13,"y":-7.14},{"x":-14.3,"y":-1.2},{"x":-14.1,"y":-2.1},
{"x":-13,"y":13.5},{"x":-13.95,"y":1.2},{"x":-13.98,"y":8.1},{"x":-13.56,"y":8.1},{"x":-13.65,"y":2.5},{"x":-13.76,"y":-11.77},{"x":-13.7,"y":-1.9},{"x":-13.5,"y":-2.6},{"x":-13.9,"y":-0.8},{"x":-13.18,"y":-3.27},{"x":-12.56,"y":-3.19},{"x":-12.59,"y":-4.5},{"x":-12.4,"y":9.37},{"x":-12.4,"y":3.9},{"x":-12.66,"y":2.58},{"x":-12.36,"y":2.5},{"x":-12.5,"y":1.57},{"x":-12.45,"y":0.59},{"x":-12.7,"y":0.05},{"x":-12.41,"y":-10.38},{"x":-12.2,"y":-0.5},{"x":-12.9,"y":-3.9},
{"x":-11.9,"y":-4.28},{"x":-11.74,"y":1.33},{"x":-11.17,"y":1.68},{"x":-11.5,"y":0.6},{"x":-11.1,"y":0.9},{"x":-10.8,"y":1.1},{"x":-10.6,"y":0.8},{"x":-10.3,"y":1},{"x":-10.1,"y":0.7},{"x":-10.8,"y":9.1},{"x":-10.9,"y":7.6},{"x":-10.77,"y":7.5},{"x":-10.4,"y":7.2},{"x":-11.7,"y":6.2},{"x":-11.4,"y":5.9},{"x":-10.65,"y":6.2},{"x":-10.6,"y":5.85},{"x":-10.6,"y":5.2},{"x":-10.4,"y":3.67},{"x":-11.44,"y":-13.84},{"x":-10.15,"y":-14.03},{"x":-10.67,"y":-12},{"x":-10.13,"y":-10.63},{"x":-11.04,"y":-5.69},{"x":-11.5,"y":-2.3},{"x":-11.2,"y":-3.1},{"x":-11.4,"y":-4},{"x":-11,"y":-4.8},{"x":-10.4,"y":-2.2},{"x":-10.2,"y":-3},{"x":-10.3,"y":-3.6},{"x":-10.1,"y":-2.7},{"x":-10.2,"y":-4},{"x":-10.05,"y":11},{"x":-11.3,"y":-1.4},{"x":-10.9,"y":-0.6},{"x":-10.5,"y":2.4},{"x":-11.8,"y":-6.8},
{"x":-9.9,"y":8.1},{"x":-9.95,"y":5.6},{"x":-9.6,"y":2.7},{"x":-9.4,"y":4.4},{"x":-9.2,"y":3.3},{"x":-9.5,"y":3.9},{"x":-9.65,"y":-9.67},{"x":-9.9,"y":-6.8},{"x":-9.6,"y":-7.1},{"x":-9.3,"y":-7.4},{"x":-9.2,"y":-6.9},{"x":-9.8,"y":-4.6},{"x":-9.5,"y":-5},{"x":-9.2,"y":-4.6},{"x":-8.7,"y":8.5},{"x":-8.7,"y":7.2},{"x":-8.6,"y":7.3},{"x":-8.6,"y":6.3},{"x":-8.7,"y":5.7},{"x":-8.4,"y":4.8},{"x":-8.5,"y":3.4},{"x":-8.45,"y":2.5},{"x":-8.3,"y":1.3},{"x":-8.2,"y":0.7},{"x":-8.68,"y":-16.16},{"x":-8.6,"y":-8.1},{"x":-8.2,"y":-8.9},{"x":-9.1,"y":-3.1},{"x":-8.9,"y":-3.7},{"x":-8.6,"y":-4.3},{"x":-8.3,"y":-3.4},{"x":-8.1,"y":-5},{"x":-9.7,"y":-1.2},{"x":-9.4,"y":-0.4},{"x":-9,"y":0.3},{"x":-8.8,"y":-1.8},{"x":-9.3,"y":1.5},{"x":-8.5,"y":-2.5},{"x":-9.8,"y":0.9},{"x":-8.9,"y":2.1},{"x":-8.3,"y":-6.2},{"x":-9.1,"y":-10.9},{"x":-8.9,"y":-2.4},{"x":-8.2,"y":-1.1},{"x":-9.5,"y":-2},
{"x":-7.9,"y":4.7},{"x":-7.8,"y":5.9},{"x":-7.6,"y":5.2},{"x":-7.5,"y":4.9},{"x":-7.24,"y":7.2},{"x":-8,"y":2.6},{"x":-7.3,"y":3.9},{"x":-7.2,"y":3.3},{"x":-7.1,"y":4.1},{"x":-7,"y":6.3},{"x":-6.9,"y":5.8},{"x":-6.95,"y":5},{"x":-6.9,"y":4.5},{"x":-6.9,"y":3.2},{"x":-7.4,"y":1.3},{"x":-7.9,"y":0.9},{"x":-7.5,"y":-8.5},{"x":-7.7,"y":-9.7},{"x":-7.24,"y":-10.49},{"x":-6.8,"y":-12.07},{"x":-7.4,"y":-6.2},{"x":-7,"y":-6.5},{"x":-6.6,"y":-6.7},{"x":-6.85,"y":-7.8},{"x":-6.85,"y":-7.96},{"x":-7.2,"y":-3.1},{"x":-7.6,"y":-3.8},{"x":-7.8,"y":-4.6},{"x":-7.3,"y":-5},{"x":-7.7,"y":-1.5},{"x":-7.5,"y":-0.3},{"x":-7.1,"y":0.4},{"x":-6.8,"y":1.8},{"x":-6.5,"y":-1},{"x":-6.3,"y":2.5},{"x":-6.2,"y":-2.8},{"x":-6.6,"y":0.2},{"x":-7.9,"y":-2.3},{"x":-6.4,"y":-4.1},{"x":-6.7,"y":-5.4},{"x":-6.1,"y":-0.5},{"x":-6.9,"y":-2},{"x":-7.3,"y":-1.1},{"x":-6.2,"y":1.3},{"x":-6.5,"y":3.7},{"x":-6.3,"y":6.8},{"x":-7.6,"y":2.1},{"x":-6.7,"y":-3.5},{"x":-6.1,"y":4.6},{"x":-6.4,"y":-7.2},{"x":-7.8,"y":-5.8},{"x":-6.6,"y":9},{"x":-6.2,"y":-8.9},{"x":-7.4,"y":0},{"x":-6.8,"y":-0.9},{"x":-6,"y":-3.3},{"x":-6.9,"y":1},{"x":-6.3,"y":-5.9},{"x":-7.1,"y":-4.4},{"x":-6.5,"y":5.3},{"x":-6.1,"y":-6.1},
{"x":-5.83,"y":-13.27},{"x":-5.31,"y":-15.59},{"x":-5.26,"y":-10.25},{"x":-4.39,"y":-10.1},{"x":-4.57,"y":-11.2},{"x":-4.22,"y":-15.31},{"x":-5.9,"y":-8.2},{"x":-5.7,"y":-7.1},{"x":-5.4,"y":-6.6},{"x":-5.1,"y":-7.8},{"x":-4.8,"y":-6},{"x":-4.5,"y":-8.7},{"x":-4.2,"y":-7.4},{"x":-5.6,"y":-5.3},{"x":-5.2,"y":-5.8},{"x":-4.9,"y":-4.9},{"x":-4.4,"y":-5.5},{"x":-4.1,"y":-6.3},{"x":-5.8,"y":-4.2},{"x":-5.5,"y":-3.7},{"x":-5,"y":-4.4},{"x":-4.7,"y":-3.2},{"x":-4.3,"y":-4},{"x":-5.9,"y":-2.6},{"x":-5.3,"y":-2.1},{"x":-4.9,"y":-2.9},{"x":-4.6,"y":-1.8},{"x":-4.2,"y":-2.4},{"x":-5.7,"y":-1.2},{"x":-5.4,"y":-0.6},{"x":-5,"y":-1.5},{"x":-4.5,"y":-0.9},{"x":-4.1,"y":-0.3},{"x":-5.8,"y":0.2},{"x":-5.2,"y":0.7},{"x":-4.8,"y":0.1},{"x":-4.4,"y":0.9},{"x":-4,"y":1.4},{"x":-5.6,"y":1.6},{"x":-5.1,"y":2.2},{"x":-4.7,"y":1.9},{"x":-4.3,"y":2.6},{"x":-5.9,"y":3},{"x":-5.4,"y":3.5},{"x":-4.9,"y":3.1},{"x":-4.6,"y":4},{"x":-4.2,"y":3.7},{"x":-5.7,"y":4.6},{"x":-5.2,"y":5.2},{"x":-4.8,"y":4.8},{"x":-4.4,"y":5.7},{"x":-5.5,"y":6.3},{"x":-5,"y":6.9},{"x":-4.6,"y":6.5},{"x":-4.1,"y":7.2},{"x":-5.8,"y":7.7},{"x":-5.3,"y":8.4},{"x":-4.5,"y":8.1},{"x":-4.9,"y":9.3},{"x":-5.6,"y":-9.6},{"x":-4.3,"y":-9},{"x":-5.1,"y":-11.9},{"x":-4.7,"y":-3.6},{"x":-5.3,"y":-0.2},{"x":-4,"y":-1.1},{"x":-5.9,"y":1.1},{"x":-4.5,"y":2.9},{"x":-5.5,"y":-1.9},{"x":-4.9,"y":-6.9},{"x":-4.2,"y":4.4},{"x":-5,"y":-3},{"x":-5.7,"y":2.6},{"x":-4.6,"y":-2.6},{"x":-4.3,"y":6.1},{"x":-5.4,"y":-4.6},{"x":-4.8,"y":10.2},{"x":-5.2,"y":-8.4},
{"x":-3.9,"y":10.6},{"x":-3.97,"y":9.9},{"x":-3.1,"y":11.6},{"x":-3.1,"y":10.95},{"x":-2.88,"y":13.07},{"x":-2.78,"y":9.64},{"x":-3.65,"y":-17.98},{"x":-3.62,"y":-18.99},{"x":-2.68,"y":-19.56},{"x":-2.6,"y":-15.18},{"x":-2.92,"y":-13.46},{"x":-3.45,"y":-14.58},{"x":-3.94,"y":-9.3},{"x":-2.65,"y":-11.5},{"x":-3.4,"y":-11.8},{"x":-2.3,"y":-9.4},{"x":-2.1,"y":-10.1},{"x":-2.5,"y":-9.8},
{"x":-3.8,"y":-8.4},{"x":-3.3,"y":-7.6},{"x":-2.9,"y":-8.1},{"x":-2.4,"y":-7.2},{"x":-3.6,"y":-6.8},{"x":-3.1,"y":-6.1},{"x":-2.6,"y":-6.5},{"x":-2.1,"y":-5.7},{"x":-3.9,"y":-5.5},{"x":-3.4,"y":-4.9},{"x":-2.8,"y":-5.2},{"x":-2.3,"y":-4.6},{"x":-3.7,"y":-4.1},{"x":-3.2,"y":-3.6},{"x":-2.7,"y":-3.9},{"x":-2.2,"y":-3.3},{"x":-3.9,"y":-2.8},{"x":-3.5,"y":-2.3},{"x":-3,"y":-2.6},{"x":-2.5,"y":-2},{"x":-2,"y":-1.6},{"x":-3.8,"y":-1.4},{"x":-3.3,"y":-0.9},{"x":-2.8,"y":-1.2},{"x":-2.3,"y":-0.6},{"x":-3.6,"y":-0.2},{"x":-3.1,"y":0.3},{"x":-2.6,"y":0},{"x":-2.1,"y":0.5},{"x":-3.9,"y":0.8},{"x":-3.4,"y":1.2},{"x":-2.9,"y":0.9},{"x":-2.4,"y":1.5},{"x":-3.7,"y":1.9},{"x":-3.2,"y":2.3},{"x":-2.7,"y":2},{"x":-2.2,"y":2.7},{"x":-3.8,"y":3.1},{"x":-3.3,"y":3.5},{"x":-2.8,"y":3.2},{"x":-2.3,"y":3.9},{"x":-3.6,"y":4.3},{"x":-3.1,"y":4.7},{"x":-2.6,"y":4.4},{"x":-2.1,"y":5.1},{"x":-3.9,"y":5.5},{"x":-3.4,"y":5.9},{"x":-2.9,"y":5.6},{"x":-2.4,"y":6.3},{"x":-3.7,"y":6.7},{"x":-3.2,"y":7.2},{"x":-2.7,"y":6.9},{"x":-2.2,"y":7.6},{"x":-3.5,"y":8.1},{"x":-2.9,"y":8.6},{"x":-2.5,"y":9.2},{"x":-3,"y":-10.7},{"x":-2.2,"y":-12.8},{"x":-3.5,"y":-9.9},{"x":-2.6,"y":-1},{"x":-3.4,"y":-3},{"x":-2,"y":-2.4},{"x":-3,"y":1.7},{"x":-2.5,"y":3},{"x":-3.6,"y":-1.8},{"x":-2.1,"y":-7.9},{"x":-3.2,"y":-5.6},{"x":-2.4,"y":-4.2},{"x":-3.8,"y":2.6},{"x":-2.8,"y":6},{"x":-3.3,"y":-8.8},{"x":-2,"y":0.1},{"x":-3.6,"y":4.9},{"x":-2.7,"y":-6.8},{"x":-3.1,"y":2.8},{"x":-2.3,"y":-2.9},{"x":-3.9,"y":-3.4},
{"x":-1.88,"y":10.3},{"x":-1.06,"y":10.73},{"x":-0.69,"y":9.53},{"x":-0.14,"y":10.35},{"x":-1.24,"y":12.34},{"x":-0.54,"y":16.5},{"x":-1.04,"y":-18.96},{"x":-0.29,"y":-17.93},{"x":-0.96,"y":-15.45},{"x":-0.61,"y":-14.55},{"x":-0.86,"y":-12.7},{"x":0,"y":-12.29},{"x":-0.05,"y":-9.75},{"x":-1.73,"y":-9.6},{"x":-1.9,"y":-10},
{"x":-1.9,"y":-8.7},{"x":-1.4,"y":-8.1},{"x":-0.9,"y":-8.6},{"x":-0.4,"y":-7.7},{"x":-1.7,"y":-7.3},{"x":-1.2,"y":-6.8},{"x":-0.7,"y":-7.1},{"x":-0.2,"y":-6.4},{"x":-1.8,"y":-6},{"x":-1.3,"y":-5.5},{"x":-0.8,"y":-5.8},{"x":-0.3,"y":-5.1},{"x":-1.6,"y":-4.7},{"x":-1.1,"y":-4.2},{"x":-0.6,"y":-4.5},{"x":-0.1,"y":-3.9},{"x":-1.9,"y":-3.6},{"x":-1.4,"y":-3.1},{"x":-0.9,"y":-3.4},{"x":-0.4,"y":-2.8},{"x":-1.7,"y":-2.5},{"x":-1.2,"y":-2},{"x":-0.7,"y":-2.3},{"x":-0.2,"y":-1.7},{"x":-1.8,"y":-1.4},{"x":-1.3,"y":-0.9},{"x":-0.8,"y":-1.2},{"x":-0.3,"y":-0.6},{"x":-1.6,"y":-0.3},{"x":-1.1,"y":0.2},{"x":-0.6,"y":-0.1},{"x":-0.1,"y":0.5},{"x":-1.9,"y":0.8},{"x":-1.4,"y":1.3},{"x":-0.9,"y":1},{"x":-0.4,"y":1.6},{"x":-1.7,"y":1.9},{"x":-1.2,"y":2.4},{"x":-0.7,"y":2.1},{"x":-0.2,"y":2.7},{"x":-1.8,"y":3},{"x":-1.3,"y":3.5},{"x":-0.8,"y":3.2},{"x":-0.3,"y":3.8},{"x":-1.6,"y":4.1},{"x":-1.1,"y":4.6},{"x":-0.6,"y":4.3},{"x":-0.1,"y":4.9},{"x":-1.9,"y":5.2},{"x":-1.4,"y":5.7},{"x":-0.9,"y":5.4},{"x":-0.4,"y":6},{"x":-1.7,"y":6.4},{"x":-1.2,"y":6.9},{"x":-0.7,"y":6.6},{"x":-0.2,"y":7.2},{"x":-1.5,"y":7.6},{"x":-1,"y":8.1},{"x":-0.5,"y":7.8},{"x":-0.8,"y":8.7},{"x":-1.3,"y":9.1},{"x":-1.6,"y":-10.9},{"x":-0.5,"y":-10.4},{"x":-1.1,"y":-11.6},{"x":-0.3,"y":-9},{"x":-1.5,"y":-1.9},{"x":-0.5,"y":-3.2},{"x":-1,"y":-5},{"x":-0.2,"y":-8.2},{"x":-1.8,"y":2.2},{"x":-0.6,"y":5.7},{"x":-1.3,"y":-6.3},{"x":-0.9,"y":-0.5},{"x":-0.1,"y":1.2},{"x":-1.5,"y":3.9},{"x":-0.7,"y":-4.8},{"x":-1.9,"y":-5.1},{"x":-0.4,"y":-1},{"x":-1,"y":6.2},{"x":-1.6,"y":0.4},{"x":-0.3,"y":2.3},{"x":-1.2,"y":-2.8},{"x":-0.8,"y":4},{"x":-1.4,"y":-7.6},
{"x":0.36,"y":12.96},{"x":0.95,"y":12.3},{"x":0.31,"y":10.2},{"x":0.33,"y":9.94},{"x":0.68,"y":11.08},{"x":1.2,"y":10.65},{"x":1.82,"y":10.86},{"x":0.85,"y":9.39},{"x":0.46,"y":-14.17},{"x":0.48,"y":-14.63},{"x":1.38,"y":-16.05},{"x":0.31,"y":-13.3},{"x":0.46,"y":-11.4},{"x":0.9,"y":-11.6},{"x":1.1,"y":-11.9},{"x":1.42,"y":-12.56},{"x":0.4,"y":-10.6},{"x":0.88,"y":-10.2},
{"x":0.1,"y":-8.5},{"x":0.6,"y":-7.9},{"x":1.1,"y":-8.4},{"x":1.6,"y":-7.5},{"x":0.3,"y":-7.1},{"x":0.8,"y":-6.6},{"x":1.3,"y":-6.9},{"x":1.8,"y":-6.2},{"x":0.2,"y":-5.8},{"x":0.7,"y":-5.3},{"x":1.2,"y":-5.6},{"x":1.7,"y":-4.9},{"x":0.4,"y":-4.5},{"x":0.9,"y":-4},{"x":1.4,"y":-4.3},{"x":1.9,"y":-3.7},{"x":0.1,"y":-3.4},{"x":0.6,"y":-2.9},{"x":1.1,"y":-3.2},{"x":1.6,"y":-2.6},{"x":0.3,"y":-2.3},{"x":0.8,"y":-1.8},{"x":1.3,"y":-2.1},{"x":1.8,"y":-1.5},{"x":0.2,"y":-1.2},{"x":0.7,"y":-0.7},{"x":1.2,"y":-1},{"x":1.7,"y":-0.4},{"x":0.4,"y":-0.1},{"x":0.9,"y":0.4},{"x":1.4,"y":0.1},{"x":1.9,"y":0.7},{"x":0.1,"y":1},{"x":0.6,"y":1.5},{"x":1.1,"y":1.2},{"x":1.6,"y":1.8},{"x":0.3,"y":2.1},{"x":0.8,"y":2.6},{"x":1.3,"y":2.3},{"x":1.8,"y":2.9},{"x":0.2,"y":3.2},{"x":0.7,"y":3.7},{"x":1.2,"y":3.4},{"x":1.7,"y":4},{"x":0.4,"y":4.3},{"x":0.9,"y":4.8},{"x":1.4,"y":4.5},{"x":1.9,"y":5.1},{"x":0.1,"y":5.4},{"x":0.6,"y":5.9},{"x":1.1,"y":5.6},{"x":1.6,"y":6.2},{"x":0.3,"y":6.6},{"x":0.8,"y":7.1},{"x":1.3,"y":6.8},{"x":1.8,"y":7.4},{"x":0.5,"y":7.9},{"x":1,"y":8.4},{"x":1.5,"y":8},{"x":0.2,"y":8.9},{"x":1.2,"y":9},{"x":0.7,"y":-9.6},{"x":1.5,"y":-9.1},{"x":0,"y":-0.6},{"x":1,"y":-2.6},{"x":1.5,"y":3},{"x":0.5,"y":5},{"x":1.9,"y":-5.5},{"x":0.8,"y":-3.6},{"x":0.3,"y":0.6},{"x":1.2,"y":7.7},{"x":0.6,"y":-6.2},{"x":1.7,"y":2.5},{"x":0.9,"y":-1.3},{"x":1.4,"y":6},{"x":0.2,"y":-4.7},{"x":1.8,"y":-0.9},{"x":1.1,"y":4.1},{"x":0.5,"y":-8},{"x":1.6,"y":-3.1},{"x":0.4,"y":2.9},{"x":1.3,"y":-7.3},
{"x":2.25,"y":9.12},{"x":3.29,"y":9.88},{"x":3.76,"y":10.13},{"x":2.07,"y":-15.2},{"x":2.25,"y":-15.42},{"x":3.56,"y":-21.3},{"x":3.3,"y":-9.8},{"x":3.4,"y":-10.5},{"x":3.9,"y":-10.76},{"x":2.5,"y":11.2},
{"x":2.1,"y":-8.1},{"x":2.6,"y":-7.6},{"x":3.1,"y":-8.3},{"x":3.6,"y":-7.2},{"x":2.3,"y":-6.8},{"x":2.8,"y":-6.3},{"x":3.3,"y":-6.6},{"x":3.8,"y":-5.9},{"x":2.2,"y":-5.5},{"x":2.7,"y":-5},{"x":3.2,"y":-5.3},{"x":3.7,"y":-4.6},{"x":2.4,"y":-4.2},{"x":2.9,"y":-3.7},{"x":3.4,"y":-4},{"x":3.9,"y":-3.4},{"x":2.1,"y":-3.1},{"x":2.6,"y":-2.6},{"x":3.1,"y":-2.9},{"x":3.6,"y":-2.3},{"x":2.3,"y":-2},{"x":2.8,"y":-1.5},{"x":3.3,"y":-1.8},{"x":3.8,"y":-1.2},{"x":2.2,"y":-0.9},{"x":2.7,"y":-0.4},{"x":3.2,"y":-0.7},{"x":3.7,"y":-0.1},{"x":2.4,"y":0.2},{"x":2.9,"y":0.7},{"x":3.4,"y":0.4},{"x":3.9,"y":1},{"x":2.1,"y":1.3},{"x":2.6,"y":1.8},{"x":3.1,"y":1.5},{"x":3.6,"y":2.1},{"x":2.3,"y":2.4},{"x":2.8,"y":2.9},{"x":3.3,"y":2.6},{"x":3.8,"y":3.2},{"x":2.2,"y":3.5},{"x":2.7,"y":4},{"x":3.2,"y":3.7},{"x":3.7,"y":4.3},{"x":2.4,"y":4.6},{"x":2.9,"y":5.1},{"x":3.4,"y":4.8},{"x":3.9,"y":5.4},{"x":2.1,"y":5.7},{"x":2.6,"y":6.2},{"x":3.1,"y":5.9},{"x":3.6,"y":6.5},{"x":2.3,"y":6.9},{"x":2.8,"y":7.4},{"x":3.3,"y":7.1},{"x":3.8,"y":7.7},{"x":2.5,"y":8.2},{"x":3,"y":8.7},{"x":3.5,"y":8.4},{"x":2.2,"y":-9.4},{"x":3,"y":-9.9},{"x":3.8,"y":-8.8},{"x":2.5,"y":-11.4},{"x":3.5,"y":-12},{"x":2.7,"y":-1.1},{"x":3.5,"y":0},{"x":2,"y":2},{"x":3,"y":3.3},{"x":2.5,"y":-3.3},{"x":3.8,"y":5.9},{"x":2.9,"y":-5.8},{"x":3.4,"y":6.8},{"x":2.2,"y":0.5},{"x":3.6,"y":-6.7},{"x":2.6,"y":4.4},{"x":3.2,"y":-2.4},{"x":2,"y":-4.7},{"x":3.9,"y":2.5},{"x":2.8,"y":9.4},{"x":3.3,"y":-7.9},{"x":2.4,"y":7.9},{"x":3.1,"y":-0.2},{"x":3.7,"y":1.6},{"x":2.1,"y":-6},{"x":3.5,"y":-3.8},
{"x":4.06,"y":10.95},{"x":4.58,"y":10.05},{"x":5,"y":9.67},{"x":5.03,"y":9.39},{"x":5.13,"y":11.27},{"x":4.4,"y":-6.9},{"x":4.6,"y":-7.5},{"x":4.8,"y":-8.3},{"x":4.9,"y":-8.8},{"x":5,"y":-7.8},{"x":5.4,"y":-8.1},{"x":5.63,"y":-10.05},{"x":5.85,"y":-11.2},{"x":4.5,"y":-9.9},{"x":4.9,"y":-10.3},
{"x":4.1,"y":-6.2},{"x":4.6,"y":-5.7},{"x":5.1,"y":-6},{"x":5.6,"y":-5.3},{"x":4.3,"y":-4.9},{"x":4.8,"y":-4.4},{"x":5.3,"y":-4.7},{"x":5.8,"y":-4},{"x":4.2,"y":-3.6},{"x":4.7,"y":-3.1},{"x":5.2,"y":-3.4},{"x":5.7,"y":-2.7},{"x":4.4,"y":-2.3},{"x":4.9,"y":-1.8},{"x":5.4,"y":-2.1},{"x":5.9,"y":-1.4},{"x":4.1,"y":-1},{"x":4.6,"y":-0.5},{"x":5.1,"y":-0.8},{"x":5.6,"y":-0.1},{"x":4.3,"y":0.3},{"x":4.8,"y":0.8},{"x":5.3,"y":0.5},{"x":5.8,"y":1.2},{"x":4.2,"y":1.6},{"x":4.7,"y":2.1},{"x":5.2,"y":1.8},{"x":5.7,"y":2.5},{"x":4.4,"y":2.9},{"x":4.9,"y":3.4},{"x":5.4,"y":3.1},{"x":5.9,"y":3.8},{"x":4.1,"y":4.2},{"x":4.6,"y":4.7},{"x":5.1,"y":4.4},{"x":5.6,"y":5.1},{"x":4.3,"y":5.5},{"x":4.8,"y":6},{"x":5.3,"y":5.7},{"x":5.8,"y":6.4},{"x":4.2,"y":6.8},{"x":4.7,"y":7.3},{"x":5.2,"y":7},{"x":5.7,"y":7.7},{"x":4.5,"y":8.1},{"x":5,"y":8.6},{"x":5.5,"y":8.3},{"x":5.9,"y":-6.6},{"x":4.4,"y":-7.2},{"x":5.5,"y":-7},{"x":4,"y":0},{"x":5,"y":2.6},{"x":4.5,"y":-1.3},{"x":5.5,"y":4.5},{"x":4.7,"y":-3.9},{"x":5.8,"y":-0.7},{"x":4.2,"y":3.6},{"x":5.3,"y":-5.2},{"x":4.9,"y":6.4},{"x":5.6,"y":1},{"x":4.3,"y":-2.7},{"x":5.1,"y":7.6},{"x":4.8,"y":-5},{"x":5.4,"y":-1.6},{"x":4.1,"y":5},{"x":5.7,"y":-3.2},{"x":4.6,"y":1.4},
{"x":6.2,"y":12.04},{"x":6.12,"y":10.32},{"x":6.17,"y":9.23},{"x":6.9,"y":9},{"x":6.47,"y":8.6},{"x":7.54,"y":10.78},{"x":7.54,"y":10.05},{"x":6.4,"y":-12.2},{"x":6.87,"y":-15.48},{"x":6.74,"y":-9},{"x":6.1,"y":-7.1},{"x":6.3,"y":-7.4},{"x":6.4,"y":-7.2},{"x":7.2,"y":-5.2},{"x":7.3,"y":-6.9},{"x":7.4,"y":-5.8},{"x":7.3,"y":-6.3},{"x":7.6,"y":8.85},{"x":7.8,"y":8},
{"x":6.1,"y":-5.4},{"x":6.6,"y":-4.9},{"x":7.1,"y":-4.6},{"x":7.6,"y":-4.1},{"x":6.3,"y":-3.7},{"x":6.8,"y":-3.2},{"x":7.3,"y":-2.9},{"x":7.8,"y":-2.4},{"x":6.2,"y":-2},{"x":6.7,"y":-1.5},{"x":7.2,"y":-1.2},{"x":7.7,"y":-0.7},{"x":6.4,"y":-0.3},{"x":6.9,"y":0.2},{"x":7.4,"y":0.5},{"x":7.9,"y":1},{"x":6.1,"y":1.4},{"x":6.6,"y":1.9},{"x":7.1,"y":2.2},{"x":7.6,"y":2.7},{"x":6.3,"y":3.1},{"x":6.8,"y":3.6},{"x":7.3,"y":3.9},{"x":7.8,"y":4.4},{"x":6.2,"y":4.8},{"x":6.7,"y":5.3},{"x":7.2,"y":5.6},{"x":7.7,"y":6.1},{"x":6.4,"y":6.5},{"x":6.9,"y":7},{"x":7.4,"y":7.3},{"x":6,"y":0.6},{"x":7,"y":-0.8},{"x":6.5,"y":2.5},{"x":7.5,"y":4.8},{"x":6.6,"y":-2.6},{"x":7.9,"y":-1.8},{"x":6.3,"y":5.9},{"x":7.2,"y":1.1},{"x":6.8,"y":-4},{"x":7.7,"y":3.2},{"x":6.1,"y":-6.3},{"x":7.4,"y":-3.5},{"x":6.5,"y":7.8},{"x":7,"y":6.4},
{"x":8.68,"y":9.94},{"x":8.78,"y":9.53},{"x":9,"y":11.36},{"x":8.1,"y":7.35},{"x":8.5,"y":7.5},{"x":9,"y":7.8},{"x":9.6,"y":7.2},{"x":9.53,"y":-8.72},{"x":9.68,"y":-11.14},{"x":9.83,"y":-14.74},{"x":8.4,"y":-5.6},{"x":8.8,"y":-6.8},{"x":8.9,"y":-7.6},{"x":9.2,"y":-6.2},{"x":9.5,"y":-7.1},{"x":9.4,"y":-5.9},{"x":8.5,"y":-0.9},{"x":9,"y":-2.6},{"x":9.4,"y":-3.9},{"x":9.6,"y":-4.4},{"x":9.9,"y":-1},{"x":9.8,"y":-3.5},
{"x":8.1,"y":-4.2},{"x":8.6,"y":-3.7},{"x":9.1,"y":-3},{"x":8.3,"y":-2.2},{"x":8.8,"y":-1.6},{"x":9.3,"y":-1.2},{"x":8.2,"y":-0.4},{"x":8.7,"y":0.3},{"x":9.2,"y":0.7},{"x":9.7,"y":1.2},{"x":8.4,"y":1.5},{"x":8.9,"y":2},{"x":9.4,"y":2.4},{"x":8.1,"y":2.9},{"x":8.6,"y":3.4},{"x":9.1,"y":3.8},{"x":9.6,"y":4.3},{"x":8.3,"y":4.8},{"x":8.8,"y":5.3},{"x":9.3,"y":5.7},{"x":8,"y":6.2},{"x":8.5,"y":6.6},{"x":9.8,"y":2.8},{"x":8.2,"y":1},{"x":9,"y":4.9},
{"x":10.67,"y":10.3},{"x":10.7,"y":9.53},{"x":11.14,"y":12.1},{"x":11.2,"y":20.9},{"x":11.79,"y":9.12},{"x":10.27,"y":8.71},{"x":10.95,"y":7.16},{"x":10.6,"y":6.78},{"x":11.24,"y":5.09},{"x":10.92,"y":3.64},{"x":11.27,"y":2.5},{"x":10.2,"y":4.2},{"x":10,"y":4.2},{"x":10.67,"y":2.45},{"x":11.3,"y":1.08},{"x":10.95,"y":-0.06},{"x":10.5,"y":-3.3},{"x":10.9,"y":-3.4},{"x":11.3,"y":-3.5},{"x":11.7,"y":-3.6},{"x":11.94,"y":-1.5},{"x":10.27,"y":-15.75},{"x":10.17,"y":-13.02},{"x":10.47,"y":-9.2},{"x":11.79,"y":-6.62},{"x":10.3,"y":-5.6},{"x":10.1,"y":-6.2},{"x":10.4,"y":-1.1},{"x":10.8,"y":0.8},{"x":11.5,"y":-0.5},
{"x":12.39,"y":-5.67},{"x":13.43,"y":-6.38},{"x":12.93,"y":-7.47},{"x":13.68,"y":-0.82},{"x":12.16,"y":6.29},{"x":13.26,"y":8.39},{"x":13.3,"y":6.67},{"x":13.85,"y":5.74},{"x":12.83,"y":4.24},{"x":12.4,"y":3.5},{"x":12.25,"y":2.88},{"x":13,"y":3.15},{"x":13.53,"y":1.85},{"x":12.6,"y":0.5},{"x":12.2,"y":-2},
{"x":14.13,"y":2.1},{"x":14.45,"y":0.62},{"x":14.08,"y":-14.69},{"x":15.69,"y":-0.71},{"x":16.09,"y":3.21},{"x":16.84,"y":5.42},
{"x":-5.5,"y":-2.2},{"x":-5,"y":1.3},{"x":-4.6,"y":-4.6},{"x":-4.1,"y":3.2},{"x":-5.8,"y":5.5},{"x":-4.4,"y":-6.8},{"x":-3.8,"y":0.4},{"x":-3.4,"y":-2.5},{"x":-3,"y":4.1},{"x":-2.6,"y":-5.3},{"x":-2.2,"y":1.9},{"x":-1.8,"y":-0.6},{"x":-1.4,"y":5.2},{"x":-1,"y":-3},{"x":-0.6,"y":2.8},{"x":-0.2,"y":-6},{"x":0.2,"y":0.9},{"x":0.6,"y":-1.7},{"x":1,"y":3.6},{"x":1.4,"y":-4.1},{"x":1.8,"y":6},{"x":2.2,"y":-2.6},{"x":2.6,"y":1.1},{"x":3,"y":-0.3},{"x":3.4,"y":3},{"x":3.8,"y":-5.1},{"x":4.2,"y":2.3},{"x":4.6,"y":-1.2},{"x":5,"y":5.4},{"x":5.4,"y":-3.5},{"x":5.8,"y":0.2},{"x":6.2,"y":3.3},{"x":6.6,"y":-0.5},{"x":7,"y":2},{"x":7.4,"y":-2.2},{"x":7.8,"y":5.6},
{"x":-5.3,"y":0.1},{"x":-4.9,"y":-1},{"x":-4.5,"y":2.4},{"x":-4,"y":-3.1},{"x":-3.6,"y":6.1},{"x":-3.2,"y":-0.2},{"x":-2.8,"y":2.6},{"x":-2.4,"y":-1.3},{"x":-2,"y":3.6},{"x":-1.6,"y":-2.1},{"x":-1.2,"y":0.5},{"x":-0.8,"y":-4.4},{"x":-0.4,"y":4.4},{"x":0,"y":-2.5},{"x":0.4,"y":2},{"x":0.8,"y":-0.2},{"x":1.2,"y":5},{"x":1.6,"y":-6.3},{"x":2,"y":0.3},{"x":2.4,"y":4.5},{"x":2.8,"y":-3.2},{"x":3.2,"y":1.8},{"x":3.6,"y":-1.5},{"x":4,"y":5.9},{"x":4.4,"y":-4.3},{"x":4.8,"y":1.5},{"x":5.2,"y":-0.1},{"x":5.6,"y":4},{"x":6,"y":-3},{"x":6.4,"y":1},{"x":6.8,"y":4.6},{"x":7.2,"y":-4.4},
{"x":-5.7,"y":-5.1},{"x":-5.1,"y":3.9},{"x":-4.8,"y":-0.3},{"x":-4.3,"y":1},{"x":-3.9,"y":-5.9},{"x":-3.5,"y":2},{"x":-3.1,"y":-1.8},{"x":-2.7,"y":5.4},{"x":-2.3,"y":0.6},{"x":-1.9,"y":-3.7},{"x":-1.5,"y":2.5},{"x":-1.1,"y":-1.5},{"x":-0.7,"y":6.1},{"x":-0.3,"y":-0.9},{"x":0.1,"y":3.3},{"x":0.5,"y":-5},{"x":0.9,"y":1.9},{"x":1.3,"y":-2.9},{"x":1.7,"y":3},{"x":2.1,"y":-0.7},{"x":2.5,"y":6.3},{"x":2.9,"y":-1.6},{"x":3.3,"y":0.9},{"x":3.7,"y":-3.8},{"x":4.1,"y":3.9},{"x":4.5,"y":0.5},{"x":4.9,"y":-2.6},{"x":5.3,"y":2.8},{"x":5.7,"y":-5.6},{"x":6.1,"y":5},{"x":6.5,"y":-1.8},{"x":6.9,"y":1.5},{"x":7.3,"y":-0.2},{"x":7.7,"y":3.8},
{"x":-4.7,"y":4.8},{"x":-4.2,"y":-2},{"x":-3.7,"y":-4.3},{"x":-3.3,"y":1.4},{"x":-2.9,"y":-3.5},{"x":-2.5,"y":3.4},{"x":-2.1,"y":-4.9},{"x":-1.7,"y":1.2},{"x":-1.3,"y":-5.6},{"x":-0.9,"y":3},{"x":-0.5,"y":-2},{"x":-0.1,"y":6.4},{"x":0.3,"y":-3.4},{"x":0.7,"y":4.6},{"x":1.1,"y":-0.6},{"x":1.5,"y":2.1},{"x":1.9,"y":-4.8},{"x":2.3,"y":3.6},{"x":2.7,"y":-5.9},{"x":3.1,"y":4.9},{"x":3.5,"y":-2.8},{"x":3.9,"y":0.3},{"x":4.3,"y":-5.6},{"x":4.7,"y":3},{"x":5.1,"y":-1.7},{"x":5.5,"y":6.7},{"x":5.9,"y":2.1},{"x":6.3,"y":-4.8},{"x":6.7,"y":3},{"x":7.1,"y":-3.3},
{"x":-1,"y":0.8},{"x":-0.6,"y":-0.4},{"x":-0.2,"y":1.7},{"x":0.2,"y":-1.1},{"x":0.6,"y":0.3},{"x":1,"y":-2},{"x":1.4,"y":1.4},{"x":1.8,"y":-0.9},{"x":2.2,"y":2.7},{"x":2.6,"y":-1.9},{"x":-1.4,"y":-1.1},{"x":-1.8,"y":1.6},{"x":-2.2,"y":-0.2},{"x":-2.6,"y":2.2},{"x":-3,"y":-0.9},{"x":3,"y":1.4},{"x":3.4,"y":-0.6},{"x":3.8,"y":2.2},{"x":4.2,"y":0},{"x":4.6,"y":-2.2},
{"x":-0.4,"y":-5.5},{"x":0.4,"y":5.6},{"x":1.2,"y":-5.2},{"x":-1.6,"y":4.1},{"x":2,"y":-4},{"x":-2.4,"y":-4.1},{"x":2.8,"y":4.2},{"x":-3.2,"y":3.2},{"x":3.6,"y":-4.4},{"x":-3.6,"y":-1.6},{"x":4,"y":-1},{"x":-4,"y":4.8},{"x":4.4,"y":1.8},{"x":-4.4,"y":-2.9},{"x":4.8,"y":-3.8},{"x":-0.8,"y":7.4},{"x":0.8,"y":-7.1},{"x":1.6,"y":7.9},{"x":-1.2,"y":-7.9},{"x":2.4,"y":-7.2},{"x":-2,"y":7},{"x":3.2,"y":7.6},{"x":-2.8,"y":-7.2},{"x":4,"y":7},{"x":-3.6,"y":7.6},{"x":5,"y":-6.5},{"x":5.6,"y":-4.4},{"x":6,"y":6.2},{"x":6.6,"y":-6.6},{"x":7.6,"y":-5.4}
]
},
"hconcat":[
 {"width":24.9,"height":566.2,"title":{"text":"(a)","anchor":"start","offset":22,"fontSize":22},"data":{"values":[]},"mark":"point"},
 {"width":610.5,"height":566.2,
  "title":{"text":["ECG–predicted age and chronological age","Pearson's r = 0.73"],"anchor":"middle","frame":"group","lineHeight":19.5,"offset":4},
  "layer":[
   {"data":{"name":"ecg"},"mark":{"type":"circle","size":30,"color":"#000000","opacity":1},
    "encoding":{
     "x":{"field":"x","type":"quantitative","title":"Chronological age","scale":{"domain":[37.4,87.31],"nice":false,"zero":false},
       "axis":{"values":[40,45,50,55,60,65,70,75,80,85],"labelExpr":"datum.value % 10 === 0 ? datum.label : ''","gridWidth":{"condition":{"test":"datum.value % 10 === 0","value":1.3},"value":0.8}}},
     "y":{"field":"y","type":"quantitative","title":"ECG–predicted age","scale":{"domain":[26.42,81.71],"nice":false,"zero":false},
       "axis":{"values":[30,35,40,45,50,55,60,65,70,75,80],"labelExpr":"datum.value % 10 === 0 ? datum.label : ''","gridWidth":{"condition":{"test":"datum.value % 10 === 0","value":1.3},"value":0.8}}}
    }},
   {"data":{"name":"ecgLine"},"mark":{"type":"line","color":"#008B8B","strokeWidth":2.6},
    "encoding":{"x":{"field":"x","type":"quantitative","title":"Chronological age"},"y":{"field":"y","type":"quantitative","title":"ECG–predicted age"}}}
  ]},
 {"width":40.7,"height":566.2,"title":{"text":"(b)","anchor":"start","offset":22,"fontSize":22},"data":{"values":[]},"mark":"point"},
 {"width":597.7,"height":566.2,
  "title":{"text":["Correlation of heart and brain delta age","Pearson's r = 0.12"],"anchor":"middle","frame":"group","lineHeight":19.5,"offset":4,"dx":4},
  "layer":[
   {"data":{"name":"delta"},"mark":{"type":"circle","size":30,"color":"#000000","opacity":1},
    "encoding":{
     "x":{"field":"x","type":"quantitative","title":"Heart delta age","scale":{"domain":[-26.33,18.23],"nice":false,"zero":false},
       "axis":{"values":[-25,-20,-15,-10,-5,0,5,10,15],"titleX":304,"labelExpr":"datum.value % 10 === 0 ? datum.label : ''","gridWidth":{"condition":{"test":"datum.value % 10 === 0","value":1.3},"value":0.8}}},
     "y":{"field":"y","type":"quantitative","title":"Brain delta age","scale":{"domain":[-23.46,22.82],"nice":false,"zero":false},
       "axis":{"values":[-20,-15,-10,-5,0,5,10,15,20],"labelExpr":"datum.value % 10 === 0 ? datum.label : ''","gridWidth":{"condition":{"test":"datum.value % 10 === 0","value":1.3},"value":0.8}}}
    }},
   {"data":{"name":"deltaLine"},"mark":{"type":"line","color":"#008B8B","strokeWidth":2.6},
    "encoding":{"x":{"field":"x","type":"quantitative","title":"Heart delta age"},"y":{"field":"y","type":"quantitative","title":"Brain delta age"}}}
  ]}
]
}
